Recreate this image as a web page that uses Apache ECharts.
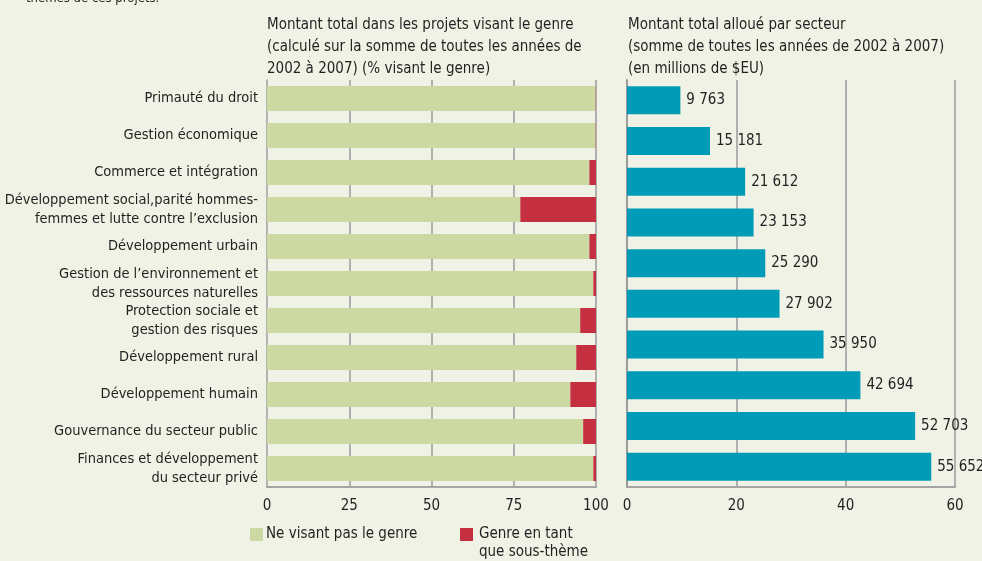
<!DOCTYPE html>
<html>
<head>
<meta charset="utf-8">
<title>Montant total par secteur</title>
<script src="https://cdn.jsdelivr.net/npm/echarts@6/dist/echarts.min.js"></script>
<style>
    html, body { margin: 0; padding: 0; background: #eff2e5; }
    #main { width: 982px; height: 561px; }
</style>
</head>
<body>
<div id="main"></div>
<script type="text/javascript">
    // secteurs (ordre de haut en bas)
    var secteurs = [
        'Primauté du droit',
        'Gestion économique',
        'Commerce et intégration',
        'Développement social,parité hommes-\nfemmes et lutte contre l\u2019exclusion',
        'Développement urbain',
        'Gestion de l\u2019environnement et\ndes ressources naturelles',
        'Protection sociale et\ngestion des risques',
        'Développement rural',
        'Développement humain',
        'Gouvernance du secteur public',
        'Finances et développement\ndu secteur privé'
    ];
    // % du montant total
    var pasGenre = [99.9, 99.9, 98, 77, 98, 99.2, 95.2, 94, 92.2, 96.1, 99.2];
    var sousTheme = [0.1, 0.1, 2, 23, 2, 0.8, 4.8, 6, 7.8, 3.9, 0.8];
    // montant alloué (millions de $EU), 10 barres
    var barresMontant = ['b1', 'b2', 'b3', 'b4', 'b5', 'b6', 'b7', 'b8', 'b9', 'b10'];
    var montants = [9763, 15181, 21612, 23153, 25290, 27902, 35950, 42694, 52703, 55652];

    var police = "'Liberation Sans Narrow', 'Arial Narrow', 'DejaVu Sans Condensed', sans-serif";
    var texte = '#231f20';
    var grille = '#9b9b9b';

    function milliers(v) {
        return String(v).replace(/\B(?=(\d{3})+(?!\d))/g, ' ');
    }

    var myChart = echarts.init(document.getElementById('main'));
    myChart.setOption({
        backgroundColor: '#eff2e5',
        textStyle: { fontFamily: police, color: texte },
        animation: false,
        graphic: [
            { type: 'text', left: 26, top: -8, style: { text: 'thèmes de ces projets.', font: '13px ' + police, fill: texte } },
            { type: 'text', left: 267, top: 14, style: { text: 'Montant total dans les projets visant le genre\n(calculé sur la somme de toutes les années de\n2002 à 2007) (% visant le genre)', font: '15px ' + police, lineHeight: 22, fill: texte } },
            { type: 'text', left: 628, top: 14, style: { text: 'Montant total alloué par secteur\n(somme de toutes les années de 2002 à 2007)\n(en millions de $EU)', font: '15px ' + police, lineHeight: 22, fill: texte } },
            { type: 'text', left: 479, top: 545, style: { text: 'que sous-thème', font: '15px ' + police, fill: texte } }
        ],
        legend: [
            {
                data: ['Ne visant pas le genre'],
                left: 245, top: 522,
                icon: 'rect', itemWidth: 13, itemHeight: 13,
                textStyle: { fontSize: 15, color: texte, fontFamily: police, padding: [0, 0, 0, -2] }
            },
            {
                data: ['Genre en tant que sous-thème'],
                left: 455, top: 522,
                icon: 'rect', itemWidth: 13, itemHeight: 13,
                formatter: function () { return 'Genre en tant'; },
                textStyle: { fontSize: 15, color: texte, fontFamily: police, padding: [0, 0, 0, 1] }
            }
        ],
        grid: [
            { left: 267, top: 80, width: 329, height: 407 },
            { left: 627, top: 80, width: 328, height: 407 }
        ],
        xAxis: [
            {
                gridIndex: 0, type: 'value', min: 0, max: 100, interval: 25,
                axisLine: { show: true, lineStyle: { color: '#a5a5a5', width: 2 } },
                axisTick: { show: false },
                axisLabel: { fontSize: 15, color: texte, margin: 12 },
                splitLine: { show: true, lineStyle: { color: grille, width: 1.5 } }
            },
            {
                gridIndex: 1, type: 'value', min: 0, max: 60000, interval: 20000,
                axisLine: { show: true, lineStyle: { color: '#a5a5a5', width: 2 } },
                axisTick: { show: false },
                axisLabel: { fontSize: 15, color: texte, margin: 12, formatter: function (v) { return v / 1000; } },
                splitLine: { show: true, lineStyle: { color: grille, width: 1.5 } }
            }
        ],
        yAxis: [
            {
                gridIndex: 0, type: 'category', data: secteurs, inverse: true,
                axisLine: { show: true, lineStyle: { color: '#b5b5b5', width: 1.5 } },
                axisTick: { show: false },
                axisLabel: { fontSize: 14.5, color: texte, margin: 9, lineHeight: 19, align: 'right' }
            },
            {
                gridIndex: 1, type: 'category', data: barresMontant, inverse: true,
                axisLine: { show: true, lineStyle: { color: '#9b9b9b', width: 2 } },
                axisTick: { show: false },
                axisLabel: { show: false }
            }
        ],
        series: [
            {
                name: 'Ne visant pas le genre', type: 'bar', stack: 'genre',
                xAxisIndex: 0, yAxisIndex: 0, barWidth: 25,
                itemStyle: { color: '#ccd9a2' },
                data: pasGenre
            },
            {
                name: 'Genre en tant que sous-thème', type: 'bar', stack: 'genre',
                xAxisIndex: 0, yAxisIndex: 0, barWidth: 25,
                itemStyle: { color: '#c43040' },
                data: sousTheme
            },
            {
                name: 'Montant', type: 'bar',
                xAxisIndex: 1, yAxisIndex: 1, barWidth: 28,
                itemStyle: { color: '#009bb6' },
                label: {
                    show: true, position: 'right', distance: 6,
                    fontSize: 15, color: texte, fontFamily: police,
                    formatter: function (p) { return milliers(p.value); }
                },
                data: montants
            }
        ]
    });
</script>
</body>
</html>
